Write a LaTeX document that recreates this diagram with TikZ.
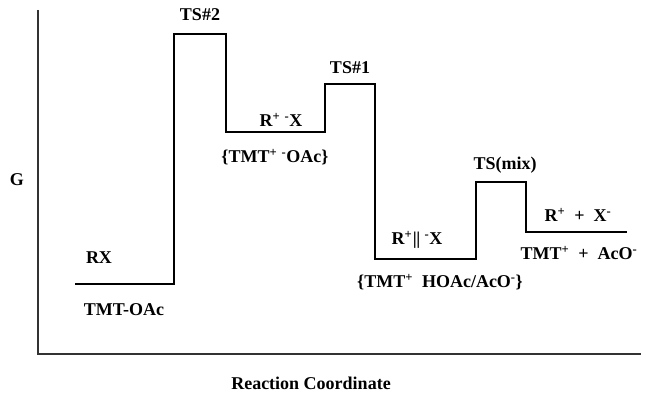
\documentclass[tikz,border=0pt]{standalone}
\usepackage{fontspec}
\setmainfont{Liberation Serif}
\begin{document}
\begin{tikzpicture}[x=1pt,y=-1pt,
  lbl/.style={font=\fontsize{18}{21}\selectfont\bfseries, inner sep=0pt},
  prof/.style={line width=1.8pt, line join=miter},
  axisline/.style={line width=1.8pt, draw=black!80}]
\useasboundingbox (0,0) rectangle (646,395);
% axes
\coordinate (ytop) at (38,10);
\coordinate (orig) at (38,354);
\coordinate (xend) at (641,354);
\draw[axisline] (ytop) -- (orig) -- (xend);
% profile
\coordinate (p0) at (75,284);
\coordinate (p1) at (174,284);
\coordinate (p2) at (174,34);
\coordinate (p3) at (226,34);
\coordinate (p4) at (226,132);
\coordinate (p5) at (325,132);
\coordinate (p6) at (325,84);
\coordinate (p7) at (375,84);
\coordinate (p8) at (375,259);
\coordinate (p9) at (476,259);
\coordinate (p10) at (476,182);
\coordinate (p11) at (526,182);
\coordinate (p12) at (526,232);
\coordinate (p13) at (627,232);
\draw[prof] (p0) -- (p1) -- (p2) -- (p3) -- (p4) -- (p5) -- (p6) -- (p7) -- (p8) -- (p9) -- (p10) -- (p11) -- (p12) -- (p13);
% labels
\node[lbl] (g) at (17,180) {G};
\node[lbl] (xl) at (311,383) {Reaction Coordinate};
\node[lbl] (rx) at (99,258) {RX};
\node[lbl] (tmtoac) at (124,310) {TMT-OAc};
\node[lbl] (ts2) at (200,15) {TS\#2};
\node[lbl] (rpx) at (281,120) {R\textsuperscript{+} \textsuperscript{-}X};
\node[lbl] (tmt1) at (275,157) {\{TMT\textsuperscript{+} \textsuperscript{-}OAc\}};
\node[lbl] (ts1) at (350,68) {TS\#1};
\node[lbl] (rpx2) at (417,240) {R\textsuperscript{+}\kern0.5pt|\kern-0.5pt| \textsuperscript{-}X};
\node[lbl] (tmt2) at (440,282) {\{TMT\textsuperscript{+}\ \ HOAc/AcO\textsuperscript{-}\}};
\node[lbl] (tsmix) at (505,165) {TS(mix)};
\node[lbl] (rpx3) at (578,215) {R\textsuperscript{+}\ \ +\ \ X\textsuperscript{-}};
\node[lbl] (tmt3) at (579,253) {TMT\textsuperscript{+}\ \ +\ \ AcO\textsuperscript{-}};
\end{tikzpicture}
\end{document}
